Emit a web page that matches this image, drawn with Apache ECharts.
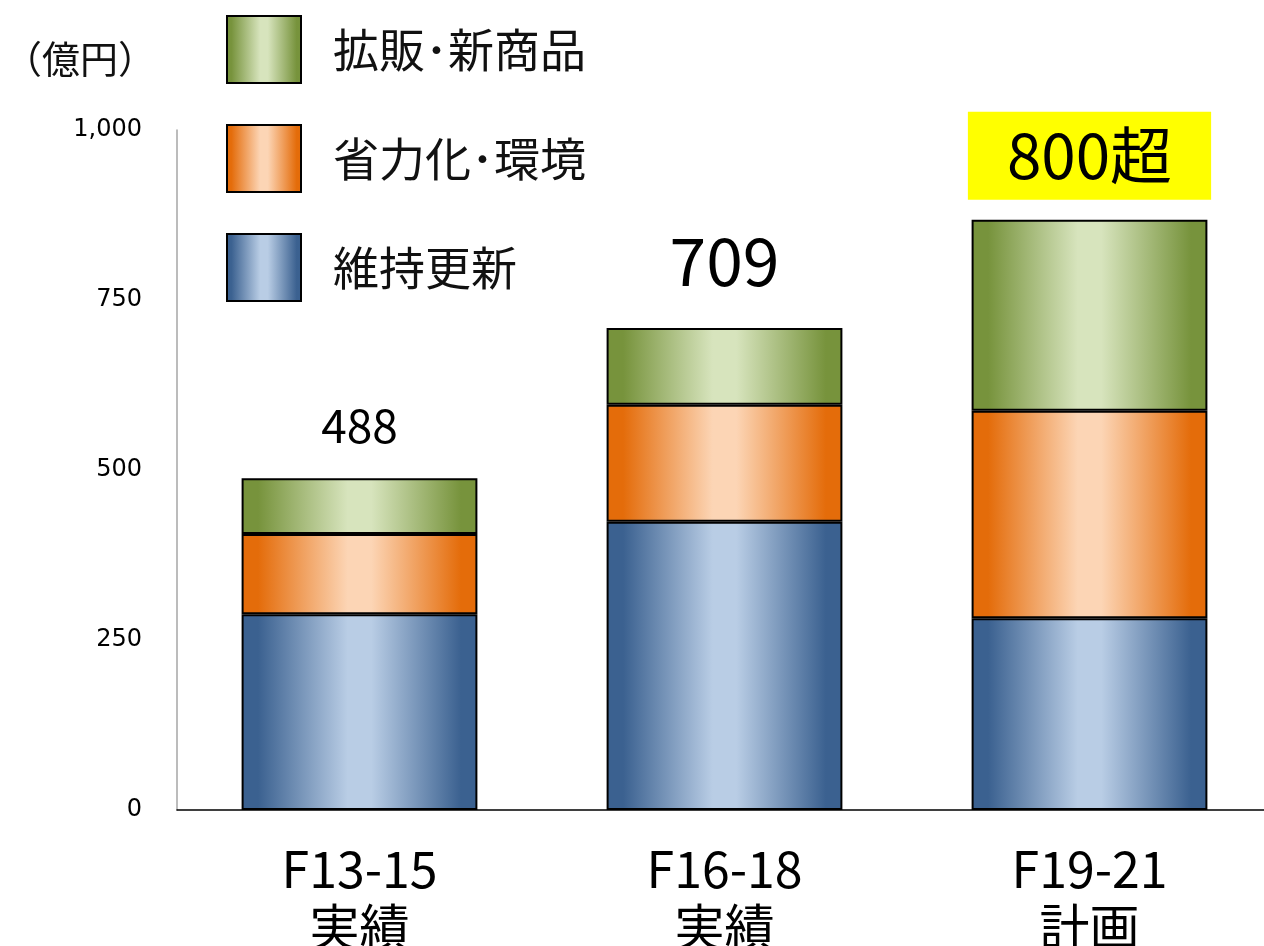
<!DOCTYPE html>
<html>
<head>
<meta charset="utf-8">
<script src="https://cdn.jsdelivr.net/npm/echarts@6/dist/echarts.min.js"></script>
<style>
  html, body { margin: 0; padding: 0; background: #fff; overflow: hidden; }
  #chart { width: 1264px; height: 946px; }
</style>
</head>
<body>
<div id="chart"></div>
<script>
// Investment by period (億円), stacked by purpose
const periods = ['F13-15\n実績', 'F16-18\n実績', 'F19-21\n計画'];
const maintenance = [288, 424, 282];   // 維持更新
const laborSaving = [118, 172, 305];   // 省力化・環境
const salesExpansion = [82, 113, 281]; // 拡販・新商品
const totalLabels = ['488', '709', '800超'];
const yTicks = [0, 250, 500, 750, 1000];

const CJK = '"Noto Sans CJK JP", "Noto Sans", sans-serif';

function shade(edge, light) {
  return {
    type: 'linear', x: 0, y: 0, x2: 1, y2: 0,
    colorStops: [
      { offset: 0, color: edge },
      { offset: 0.07, color: edge },
      { offset: 0.45, color: light },
      { offset: 0.55, color: light },
      { offset: 0.93, color: edge },
      { offset: 1, color: edge }
    ]
  };
}

const blueFill = shade('#3B6190', '#B9CDE5');
const orangeFill = shade('#E46C0A', '#FCD5B5');
const greenFill = shade('#77933C', '#D7E4BD');

const chart = echarts.init(document.getElementById('chart'));

const barBase = {
  type: 'bar',
  stack: 'total',
  barWidth: '64.6%',
  itemStyle: { borderColor: '#000', borderWidth: 2 }
};

chart.setOption({
  animation: false,
  grid: {
    left: 177, top: 130, width: 1095, height: 680,
    containLabel: false, outerBoundsMode: 'none'
  },
  legend: {
    left: 221, top: 10,
    orient: 'vertical',
    icon: 'rect',
    itemWidth: 74, itemHeight: 67, itemGap: 40,
    data: ['拡販･新商品', '省力化･環境', '維持更新'],
    textStyle: { fontFamily: CJK, fontSize: 46, lineHeight: 67, color: '#111', padding: [0, 0, 0, 27] },
    selectedMode: false
  },
  graphic: [{
    type: 'text', left: 4, top: 40,
    style: { text: '（億円）', font: '38px ' + CJK, fill: '#111' }
  }],
  xAxis: {
    type: 'category',
    data: periods,
    axisLine: { lineStyle: { color: '#000', width: 1.5 } },
    axisTick: { show: false },
    axisLabel: {
      margin: 30,
      fontFamily: '"Liberation Sans Narrow", ' + CJK,
      fontSize: 50, lineHeight: 58, color: '#000'
    }
  },
  yAxis: {
    type: 'value',
    min: 0, max: 1000, interval: 250,
    axisLine: { show: true, lineStyle: { color: '#A6A6A6', width: 1.5 } },
    axisTick: { show: false },
    splitLine: { show: false },
    axisLabel: {
      margin: 35,
      fontFamily: '"DejaVu Sans", sans-serif',
      fontSize: 24, color: '#000',
      formatter: v => yTicks.includes(v) ? v.toLocaleString('en-US') : ''
    }
  },
  series: [
    Object.assign({}, barBase, {
      name: '維持更新', data: maintenance,
      itemStyle: Object.assign({}, barBase.itemStyle, { color: blueFill })
    }),
    Object.assign({}, barBase, {
      name: '省力化･環境', data: laborSaving,
      itemStyle: Object.assign({}, barBase.itemStyle, { color: orangeFill })
    }),
    Object.assign({}, barBase, {
      name: '拡販･新商品', data: salesExpansion,
      itemStyle: Object.assign({}, barBase.itemStyle, { color: greenFill }),
      label: {
        show: true, position: 'top',
        formatter: p => '{' + ['a', 'b', 'c'][p.dataIndex] + '|' + totalLabels[p.dataIndex] + '}',
        rich: {
          a: { fontFamily: CJK, fontSize: 46, color: '#000', padding: [0, 0, 10, 0] },
          b: { fontFamily: CJK, fontSize: 66, color: '#000', padding: [0, 0, 14, 0] },
          c: {
            fontFamily: CJK, fontSize: 62, color: '#000',
            backgroundColor: '#FFFF00', padding: [13, 39, 13, 39], lineHeight: 64
          }
        },
        distance: 20
      },
      // lift the highlighted plan total a little further above the third bar
      labelLayout: p => p.dataIndex === 2 ? { dy: -12 } : {}
    })
  ]
});
</script>
</body>
</html>
